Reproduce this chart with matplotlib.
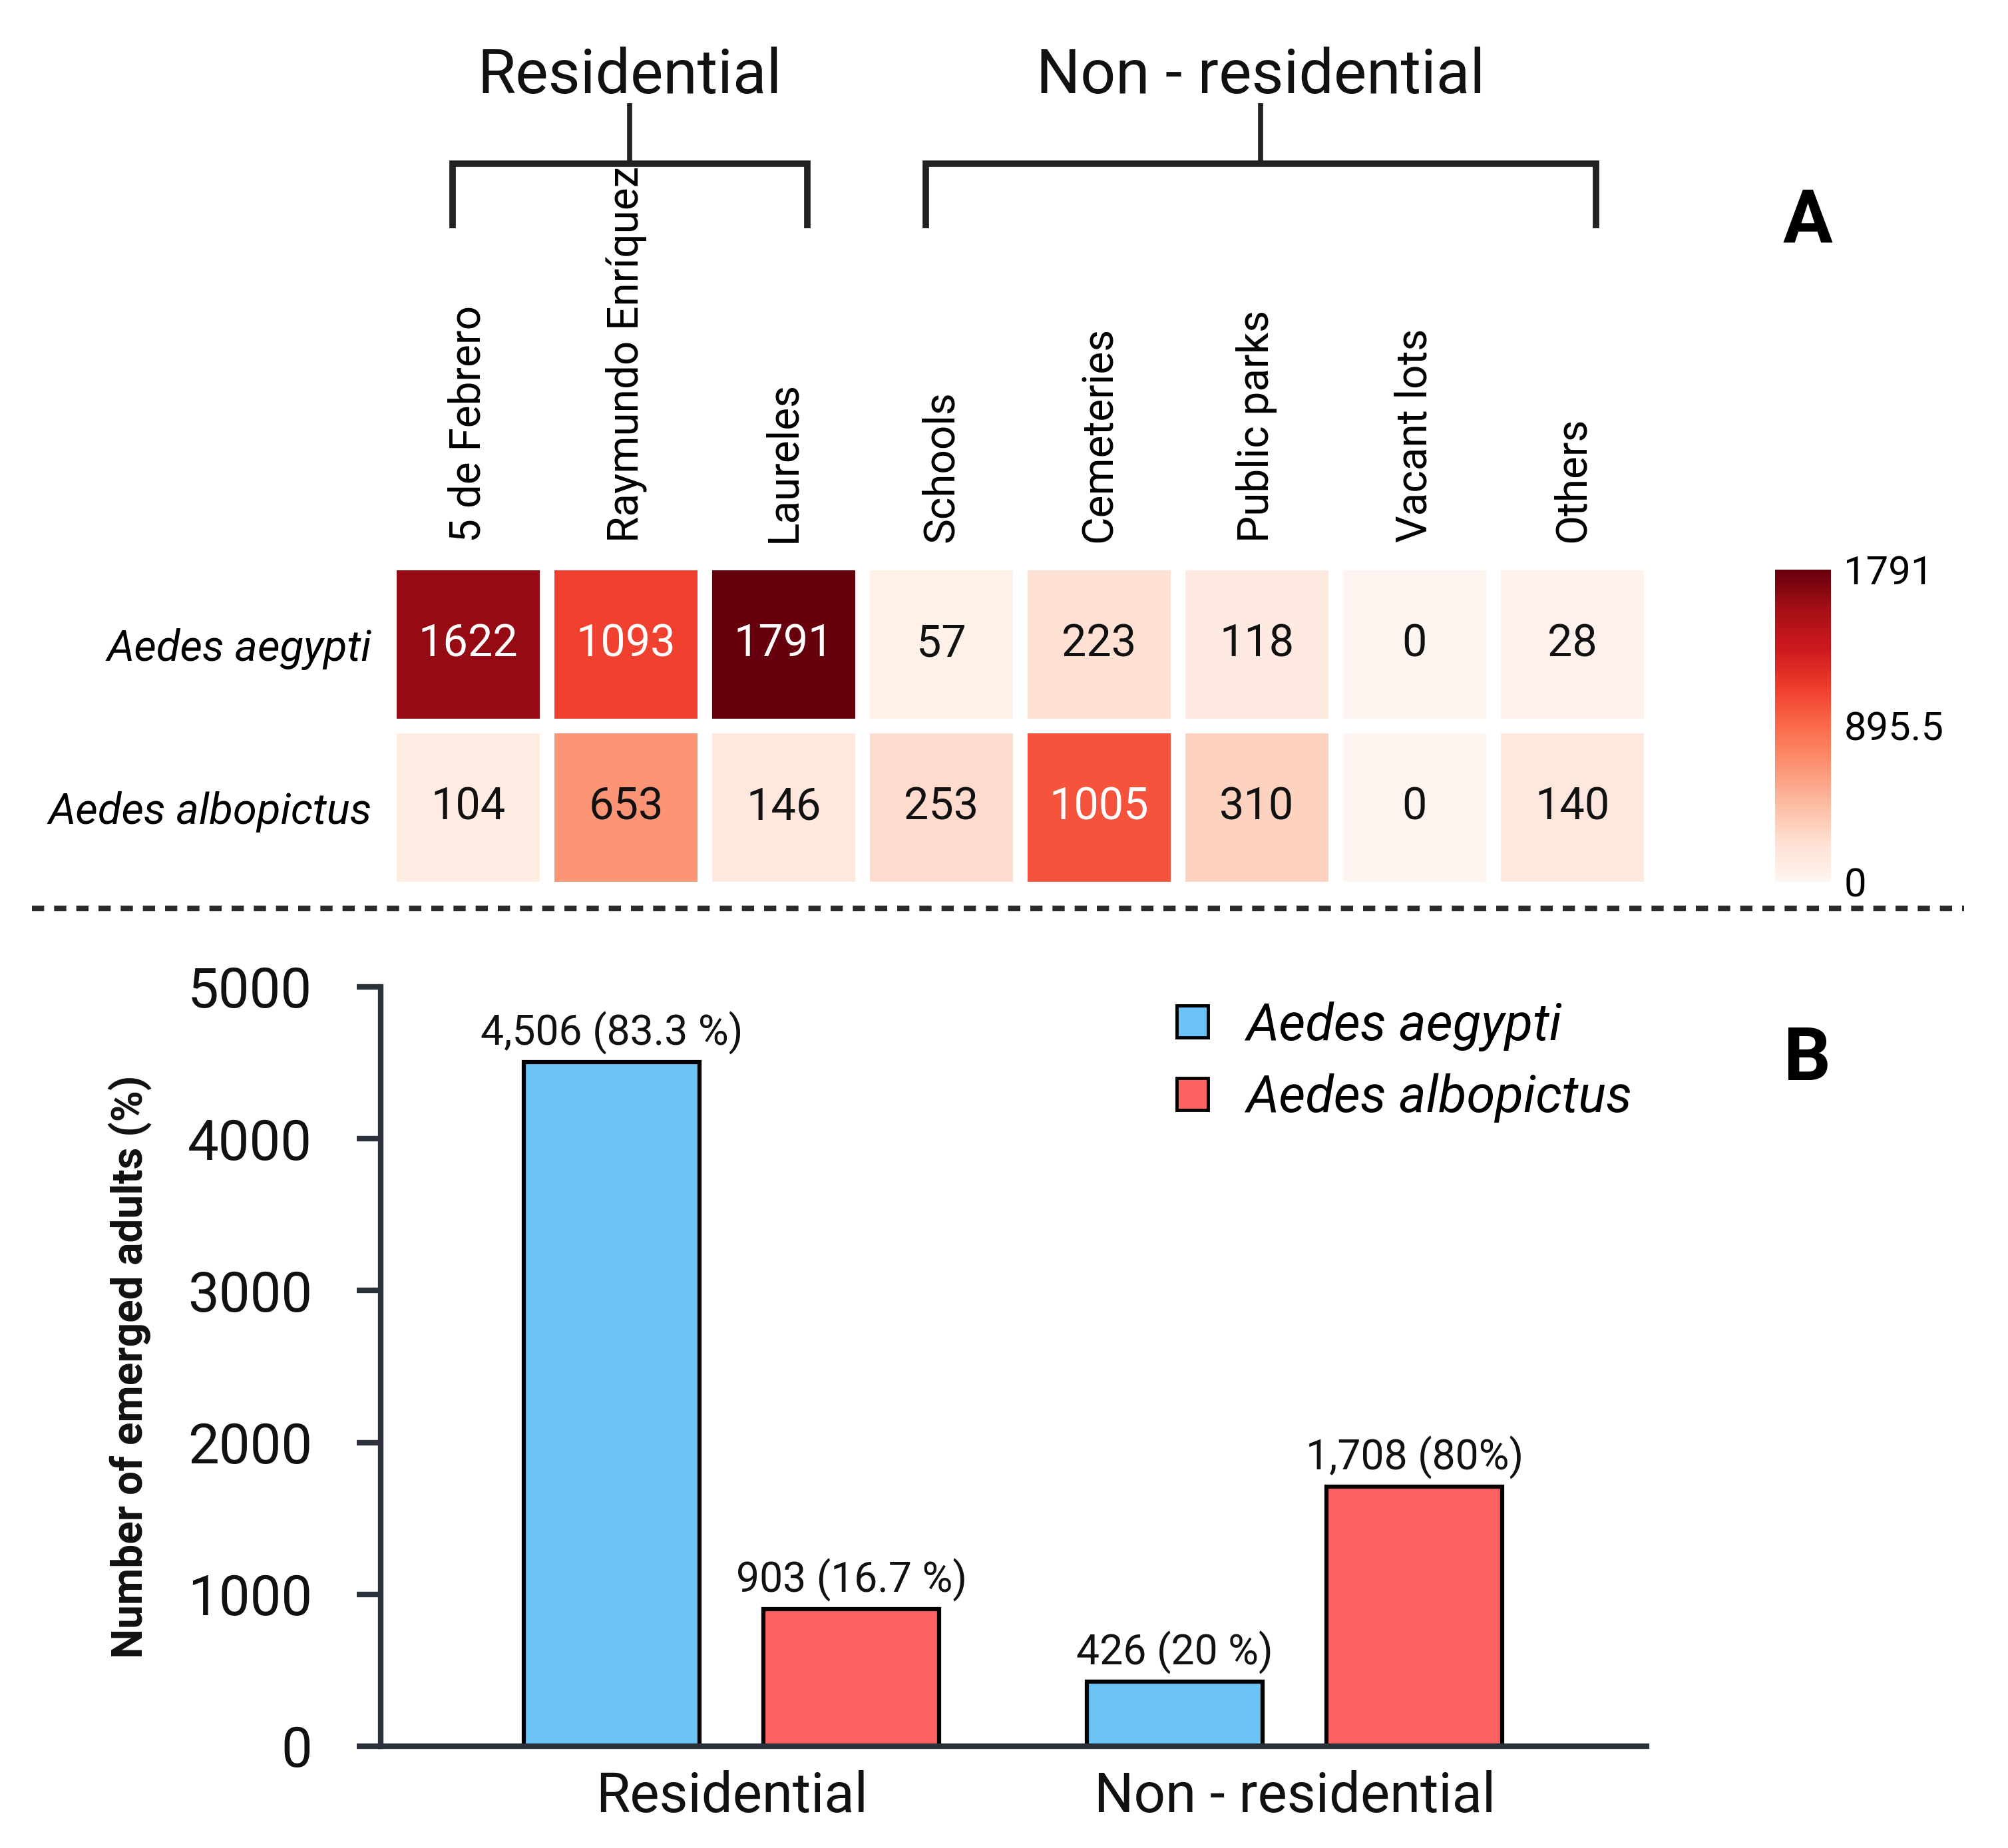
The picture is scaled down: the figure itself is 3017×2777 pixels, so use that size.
import numpy as np
import matplotlib
matplotlib.use("Agg")
import matplotlib.pyplot as plt
from matplotlib.patches import Patch
from matplotlib.lines import Line2D
from matplotlib.transforms import blended_transform_factory

plt.rcParams['font.family'] = ['Roboto', 'DejaVu Sans']

################################ Data ####################################

sites = ['5 de Febrero', 'Raymundo Enríquez', 'Laureles', 'Schools',
         'Cemeteries', 'Public parks', 'Vacant lots', 'Others']
species = ['Aedes aegypti', 'Aedes albopictus']
aegypti_counts = [1622, 1093, 1791, 57, 223, 118, 0, 28]
albopictus_counts = [104, 653, 146, 253, 1005, 310, 0, 140]

# site groups: (name, first column, last column + 1)
groups = [('Residential', 0, 3), ('Non - residential', 3, 8)]

zones = ['Residential', 'Non - residential']
aegypti_totals = [4506, 426]
albopictus_totals = [903, 1708]
aegypti_labels = ['4,506 (83.3 %)', '426 (20 %)']
albopictus_labels = ['903 (16.7 %)', '1,708 (80%)']

blue = '#6cc3f5'
red = '#ff6060'
dark = '#2b323b'

fig = plt.figure(figsize=(30.17, 27.77), dpi=100)

################################ Panel A: heatmap ####################################

ax_h = fig.add_axes([0.1939, 0.5189, 0.6284, 0.1765])
data = np.array([aegypti_counts, albopictus_counts])
vmax = data.max()
mesh = ax_h.pcolormesh(data, cmap='Reds', vmin=0, vmax=vmax,
                       edgecolors='white', linewidth=15.8)
ax_h.set_xlim(0, len(sites))
ax_h.set_ylim(len(species), 0)

for i in range(data.shape[0]):
    for j in range(data.shape[1]):
        v = data[i, j]
        col = 'white' if v > vmax / 2 else '#111111'
        ax_h.text(j + 0.5, i + 0.5, str(v), ha='center', va='center',
                  fontsize=48, color=col)

ax_h.xaxis.tick_top()
ax_h.set_xticks(np.arange(len(sites)) + 0.5)
ax_h.set_xticklabels(sites, rotation=90, fontsize=46)
ax_h.set_yticks(np.arange(len(species)) + 0.5)
ax_h.set_yticklabels(species, fontsize=47, style='italic')
ax_h.tick_params(axis='x', length=0, pad=22)
ax_h.tick_params(axis='y', length=0, pad=19)
for s in ax_h.spines.values():
    s.set_visible(False)

# colorbar
cax = fig.add_axes([0.884, 0.5229, 0.0278, 0.1689])
cb = fig.colorbar(mesh, cax=cax, ticks=[0, vmax / 2, vmax], format=lambda v, p: f'{v:g}')
cb.outline.set_visible(False)
cax.tick_params(length=0, pad=14, labelsize=43)

# group brackets above the column labels
trans = blended_transform_factory(ax_h.transData, fig.transFigure)
y_leg, y_bar, y_stem = 0.8765, 0.9114, 0.9442
for name, start, end in groups:
    left = start + 0.4
    right = end - 0.35
    mid = (left + right) / 2
    ax_h.plot([left, left, right, right], [y_leg, y_bar, y_bar, y_leg],
              color='#222222', lw=7, transform=trans, clip_on=False,
              solid_joinstyle='miter', solid_capstyle='butt')
    ax_h.plot([mid, mid], [y_bar, y_stem], color='#222222', lw=5.5,
              transform=trans, clip_on=False, solid_capstyle='butt')
    ax_h.text(mid, 0.9495, name, transform=trans, ha='center', va='baseline',
              fontsize=67, color='#111111')

fig.text(0.9002, 0.8801, 'A', fontsize=80, fontweight='bold', ha='center', va='center')

# dashed separator
fig.add_artist(Line2D([0.016, 0.978], [0.5085, 0.5085], transform=fig.transFigure,
                      color='#2a2a2a', lw=6, dashes=(2.2, 1.8)))

################################ Panel B: bars ####################################

ax_b = fig.add_axes([0.1896, 0.0551, 0.6304, 0.4109])
x = np.arange(len(zones))
w = 0.312
off = 0.213
b1 = ax_b.bar(x - off, aegypti_totals, w, color=blue, edgecolor='black', lw=4.5)
b2 = ax_b.bar(x + off, albopictus_totals, w, color=red, edgecolor='black', lw=4.5)
ax_b.bar_label(b1, labels=aegypti_labels, padding=8, fontsize=45, color='#111111')
ax_b.bar_label(b2, labels=albopictus_labels, padding=8, fontsize=45, color='#111111')

ax_b.set_xlim(-0.623, 1.625)
ax_b.set_ylim(0, 5000)
ax_b.set_yticks(np.arange(0, 5001, 1000))
ax_b.set_xticks(x)
ax_b.set_xticklabels(zones)
ax_b.spines['top'].set_visible(False)
ax_b.spines['right'].set_visible(False)
for s in ['left', 'bottom']:
    ax_b.spines[s].set_color(dark)
    ax_b.spines[s].set_linewidth(6)
ax_b.tick_params(axis='y', length=26, width=6, color=dark, pad=48,
                 labelsize=60, labelcolor='#111111')
ax_b.tick_params(axis='x', length=0, pad=26, labelsize=60, labelcolor='#111111')

fig.text(0.0646, 0.2603, 'Number of emerged adults (%)', rotation=90,
         ha='center', va='center', fontsize=46, fontweight='bold', color='#111111')

handles = [Patch(facecolor=blue, edgecolor='black', lw=3.5, label=species[0]),
           Patch(facecolor=red, edgecolor='black', lw=3.5, label=species[1])]
ax_b.legend(handles=handles, loc='upper left', bbox_to_anchor=(0.586, 0.4584),
            bbox_transform=fig.transFigure, frameon=False,
            prop={'style': 'italic', 'size': 56},
            handlelength=0.61, handleheight=0.58, handletextpad=0.73,
            labelspacing=0.43, borderpad=0, borderaxespad=0)

fig.text(0.9002, 0.4264, 'B', fontsize=80, fontweight='bold', ha='center', va='center')

fig.savefig('out.png', dpi=100, facecolor='white')
